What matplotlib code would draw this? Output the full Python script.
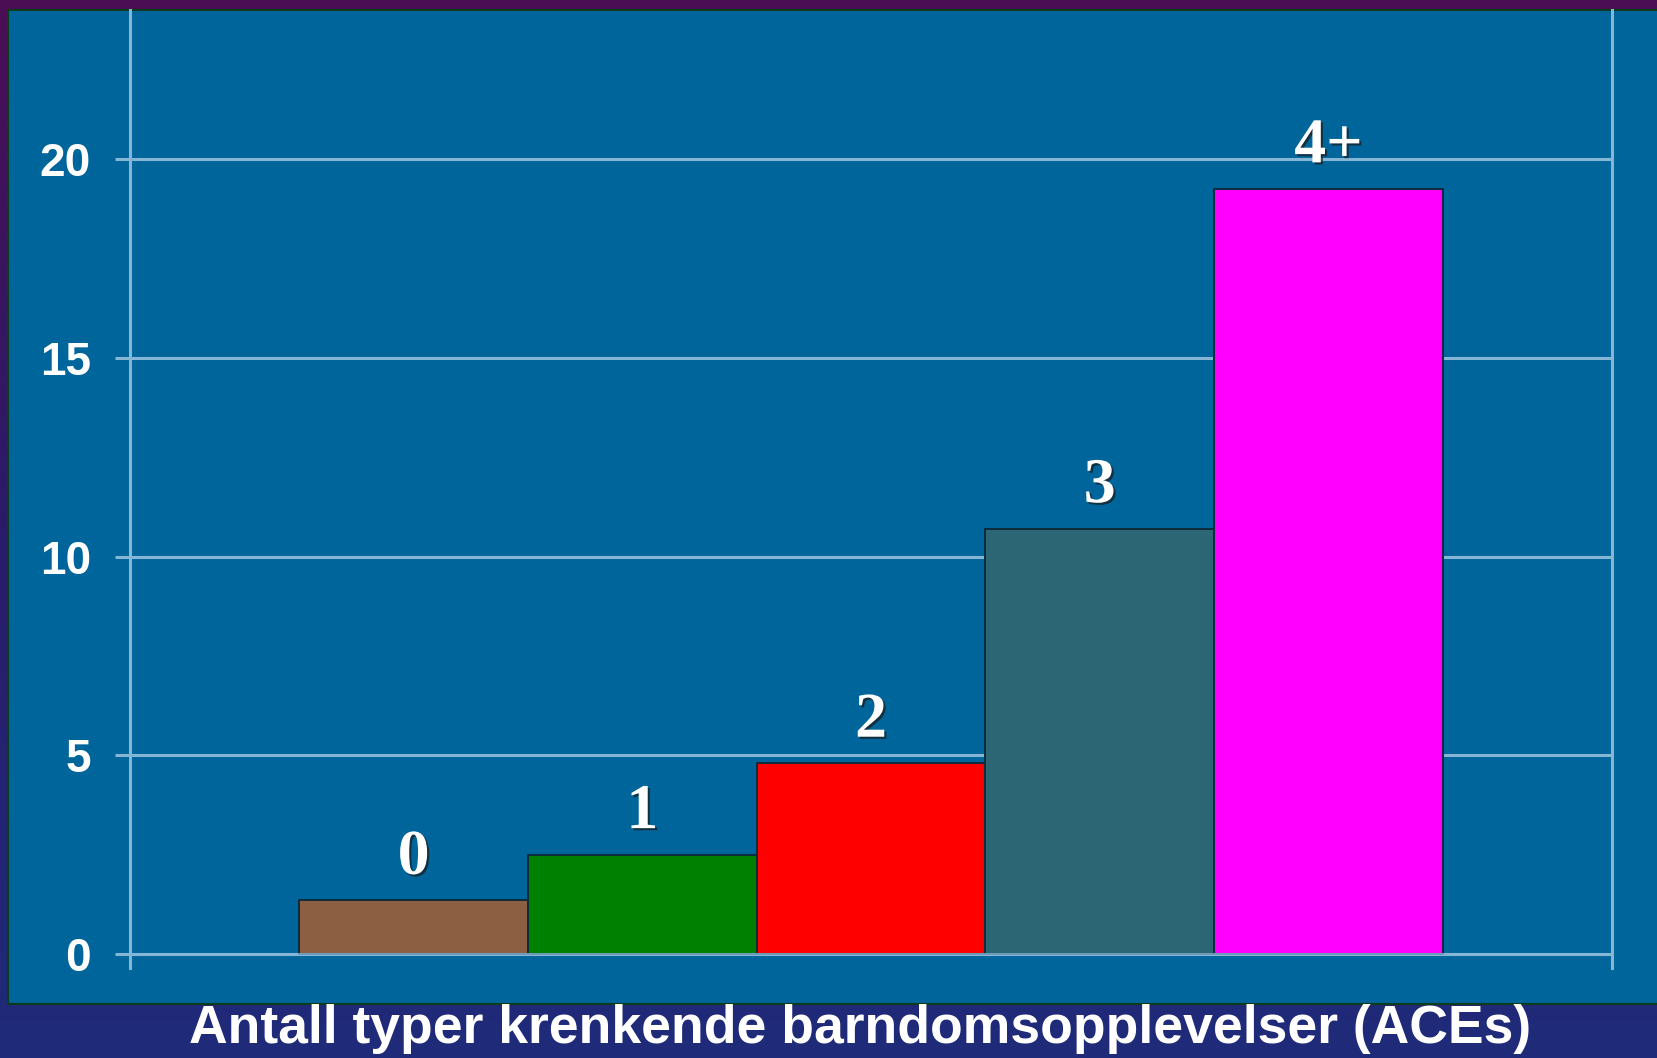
import numpy as np
import matplotlib.pyplot as plt
from matplotlib.patches import Rectangle
from matplotlib.colors import LinearSegmentedColormap
import matplotlib.patheffects as pe

# data
categories = ["0", "1", "2", "3", "4+"]
values = [1.35, 2.5, 4.8, 10.7, 19.25]
bar_colors = ["#8c5e42", "#008000", "#ff0000", "#2c6674", "#ff00ff"]
yticks = [0, 5, 10, 15, 20]
xlabel = "Antall typer krenkende barndomsopplevelser (ACEs)"

W, H = 1658, 1058
fig = plt.figure(figsize=(W / 100, H / 100), dpi=100)

# slide background: purple at top fading to navy
bg = fig.add_axes([0, 0, 1, 1], zorder=-10)
grad = np.linspace(0, 1, 256).reshape(-1, 1)
cmap = LinearSegmentedColormap.from_list("slide", ["#4b0e55", "#2a1c6a", "#1f2b7a"])
bg.imshow(grad, aspect="auto", cmap=cmap, extent=[0, 1, 0, 1])
bg.set_axis_off()

# blue chart panel
bg.add_patch(Rectangle((8 / W, 1 - 1004 / H), 1, (1004 - 10) / H,
                       facecolor="#00659a", edgecolor="#0b3d1c", linewidth=1.5,
                       transform=bg.transAxes))

grid_col = "#85b6d5"
ax = fig.add_axes([130 / W, 1 - 968 / H, (1612 - 130) / W, 958 / H])
ax.set_facecolor("none")

x = np.arange(len(categories))
ax.bar(x, values, width=1.0, color=bar_colors, edgecolor="#0d2c3c",
       linewidth=1.4, zorder=3)
ax.axhline(0, color=grid_col, linewidth=2.2, alpha=0.8, zorder=4)

for xi, v, lab in zip(x, values, categories):
    ax.annotate(lab, (xi, v), xytext=(0, 9), textcoords="offset points",
                ha="center", va="bottom", color="white", fontsize=46,
                fontweight="bold", family="Liberation Serif", zorder=5,
                path_effects=[pe.withSimplePatchShadow(offset=(1.5, -1.5),
                                                       shadow_rgbFace="#1a1a1a",
                                                       alpha=0.7)])

ax.set_xlim(-1.24, 5.24)
ax.set_ylim(-0.352, 23.75)
ax.set_yticks(yticks)
ax.set_xticks([])
ax.yaxis.grid(True, color=grid_col, linewidth=2.2, zorder=1)
ax.set_axisbelow(True)
ax.tick_params(axis="y", length=11, width=2.2, color=grid_col, pad=17,
               labelsize=33, labelcolor="white")
for t in ax.get_yticklabels():
    t.set_fontweight("bold")
    t.set_family("Liberation Sans")

for side in ["top", "bottom"]:
    ax.spines[side].set_visible(False)
for side in ["left", "right"]:
    ax.spines[side].set_color(grid_col)
    ax.spines[side].set_linewidth(2.2)

fig.text(860 / W, 1 - 1029 / H, xlabel, ha="center", va="center",
         color="white", fontsize=38.5, fontweight="bold", family="Liberation Sans")

fig.savefig("out.png", dpi=100)
